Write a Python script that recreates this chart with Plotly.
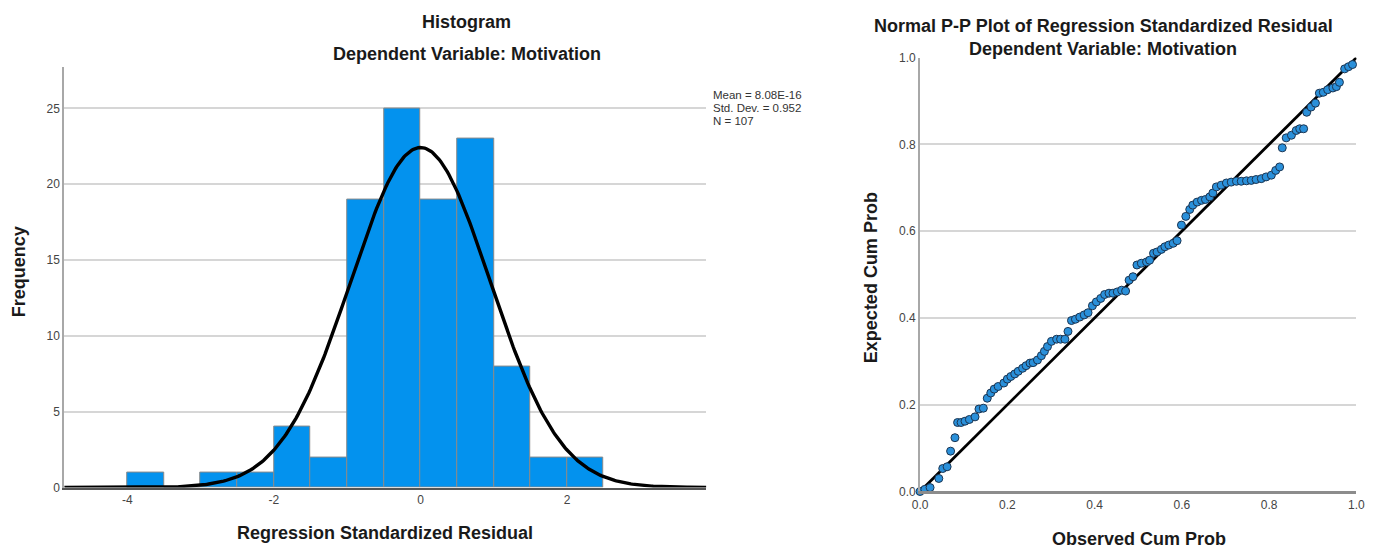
import numpy as np
import plotly.graph_objects as go

# ---------------- Data ----------------
# Histogram of regression standardized residuals (bin width 0.5)
bin_starts = [-4.0, -3.5, -3.0, -2.5, -2.0, -1.5, -1.0, -0.5, 0.0, 0.5, 1.0, 1.5, 2.0]
bin_counts = [1, 0, 1, 1, 4, 2, 19, 25, 19, 23, 8, 2, 2]
bin_width = 0.5
stat_mean = 8.08e-16
stat_sd = 0.952
stat_n = 107

# Normal P-P plot points
observed_cum = [0.000, 0.011, 0.023, 0.043, 0.052, 0.062, 0.070, 0.080, 0.086, 0.094,
                0.103, 0.113, 0.126, 0.135, 0.145, 0.154, 0.162, 0.170, 0.179, 0.192,
                0.200, 0.208, 0.217, 0.225, 0.235, 0.243, 0.252, 0.259, 0.269, 0.278,
                0.285, 0.292, 0.301, 0.313, 0.322, 0.332, 0.339, 0.347, 0.356, 0.366,
                0.376, 0.385, 0.395, 0.404, 0.414, 0.423, 0.433, 0.442, 0.452, 0.462,
                0.471, 0.479, 0.488, 0.497, 0.507, 0.519, 0.526, 0.535, 0.543, 0.553,
                0.561, 0.570, 0.580, 0.589, 0.599, 0.609, 0.618, 0.625, 0.635, 0.645,
                0.654, 0.664, 0.671, 0.679, 0.690, 0.702, 0.713, 0.725, 0.736, 0.748,
                0.759, 0.770, 0.782, 0.793, 0.805, 0.815, 0.824, 0.830, 0.839, 0.851,
                0.862, 0.870, 0.879, 0.886, 0.896, 0.906, 0.915, 0.924, 0.934, 0.946,
                0.954, 0.961, 0.973, 0.982, 0.991]
expected_cum = [0.000, 0.005, 0.009, 0.030, 0.053, 0.057, 0.093, 0.124, 0.159, 0.159,
                0.162, 0.166, 0.172, 0.190, 0.192, 0.215, 0.227, 0.236, 0.242, 0.250,
                0.259, 0.265, 0.271, 0.277, 0.284, 0.290, 0.296, 0.297, 0.303, 0.313,
                0.323, 0.334, 0.346, 0.351, 0.351, 0.351, 0.369, 0.394, 0.397, 0.402,
                0.407, 0.412, 0.428, 0.437, 0.445, 0.454, 0.457, 0.457, 0.460, 0.464,
                0.462, 0.487, 0.495, 0.522, 0.526, 0.529, 0.533, 0.549, 0.552, 0.558,
                0.564, 0.568, 0.572, 0.578, 0.614, 0.634, 0.650, 0.660, 0.667, 0.671,
                0.673, 0.679, 0.688, 0.702, 0.706, 0.711, 0.713, 0.715, 0.715, 0.716,
                0.717, 0.719, 0.721, 0.725, 0.729, 0.740, 0.748, 0.792, 0.815, 0.821,
                0.832, 0.836, 0.836, 0.874, 0.886, 0.895, 0.918, 0.920, 0.926, 0.930,
                0.933, 0.943, 0.974, 0.979, 0.984]

hist_xticks = [-4, -2, 0, 2]
hist_yticks = [0, 5, 10, 15, 20, 25]
pp_ticks = [0.0, 0.2, 0.4, 0.6, 0.8, 1.0]

# ---------------- Figure ----------------
W, H = 1375, 550
# screen-position helpers (compensate for page offset/scale observed in render)
def px(x): return ((x - 14.7) / 0.989) / W
def py(y): return (H - (y - 14.3) / 0.977) / H

FONT = "Liberation Sans, Arial, sans-serif"
BAR_COLOR = "#0392EE"
GRID = "#d6d6d6"
AXIS = "#a8a8a8"
TICKC = "#444444"

fig = go.Figure()

bin_centers = [s + bin_width / 2 for s in bin_starts]
fig.add_trace(go.Bar(
    x=bin_centers, y=bin_counts, width=bin_width,
    marker=dict(color=BAR_COLOR, line=dict(color="#8a8a8a", width=1)),
    xaxis="x", yaxis="y", showlegend=False, hoverinfo="x+y"))

xr = (-4.86, 3.90)
xc = np.linspace(xr[0], xr[1], 400)
yc = stat_n * bin_width * np.exp(-0.5 * ((xc - stat_mean) / stat_sd) ** 2) / (stat_sd * np.sqrt(2 * np.pi))
fig.add_trace(go.Scatter(x=xc, y=yc, mode="lines", line=dict(color="black", width=3.4),
                         xaxis="x", yaxis="y", showlegend=False, cliponaxis=False))

fig.add_trace(go.Scatter(x=[0, 1], y=[0, 1], mode="lines", line=dict(color="black", width=2.8),
                         xaxis="x2", yaxis="y2", showlegend=False, cliponaxis=False))
fig.add_trace(go.Scatter(x=observed_cum, y=expected_cum, mode="markers",
                         marker=dict(size=8, color="#2A90DA", line=dict(color="#1b3552", width=1)),
                         xaxis="x2", yaxis="y2", showlegend=False, cliponaxis=False))

tickfont = dict(family=FONT, size=12, color=TICKC)

fig.update_layout(
    width=W, height=H,
    margin=dict(l=0, r=0, t=0, b=0),
    paper_bgcolor="white", plot_bgcolor="white",
    bargap=0,
    xaxis=dict(domain=[px(63), px(706)], range=list(xr), tickvals=hist_xticks,
               ticktext=[str(v) for v in hist_xticks], tickfont=tickfont,
               showgrid=False, zeroline=False, showline=True, linecolor="#555555", linewidth=2,
               ticks="", ticklen=0, anchor="y"),
    yaxis=dict(domain=[py(488), py(66)], range=[0, 27.76], tickvals=hist_yticks,
               tickfont=tickfont, showgrid=True, gridcolor=GRID, gridwidth=1.5,
               zeroline=False, showline=True, linecolor=AXIS, linewidth=2,
               ticks="", anchor="x"),
    xaxis2=dict(domain=[px(920), px(1357)], range=[0, 1], tickvals=pp_ticks,
                ticktext=[f"{v:.1f}" for v in pp_ticks], tickfont=tickfont,
                showgrid=False, zeroline=False, showline=True, linecolor="#8c8c8c", linewidth=2.5,
                ticks="", anchor="y2"),
    yaxis2=dict(domain=[py(492), py(57)], range=[0, 1], tickvals=pp_ticks,
                ticktext=[f"{v:.1f}" for v in pp_ticks], tickfont=tickfont,
                showgrid=True, gridcolor=GRID, gridwidth=1.5,
                zeroline=False, showline=True, linecolor=AXIS, linewidth=2,
                ticks="", anchor="x2"),
)

title_font = dict(family=FONT, size=18, color="#1a1a1a")
anns = [
    dict(text="<b>Histogram</b>", x=px(466), y=py(21)),
    dict(text="<b>Dependent Variable: Motivation</b>", x=px(466), y=py(53)),
    dict(text="<b>Regression Standardized Residual</b>", x=px(384), y=py(534)),
    dict(text="<b>Frequency</b>", x=px(18), y=py(272), textangle=-90),
    dict(text="<b>Normal P-P Plot of Regression Standardized Residual</b>", x=px(1104), y=py(25)),
    dict(text="<b>Dependent Variable: Motivation</b>", x=px(1103), y=py(48)),
    dict(text="<b>Observed Cum Prob</b>", x=px(1139), y=py(540)),
    dict(text="<b>Expected Cum Prob</b>", x=px(871), y=py(278), textangle=-90),
]
for a in anns:
    fig.add_annotation(xref="paper", yref="paper", showarrow=False, borderpad=0,
                       xanchor="center", yanchor="middle", font=title_font, **a)

stat_lines = ["Mean = 8.08E-16", f"Std. Dev. = {stat_sd:.3f}", f"N = {stat_n}"]
for i, line in enumerate(stat_lines):
    fig.add_annotation(xref="paper", yref="paper", showarrow=False, xanchor="left", yanchor="middle",
                       x=px(711), y=py(95 + 13 * i), text=line,
                       font=dict(family=FONT, size=11.5, color="#333333"))

fig.write_html("out.html")
